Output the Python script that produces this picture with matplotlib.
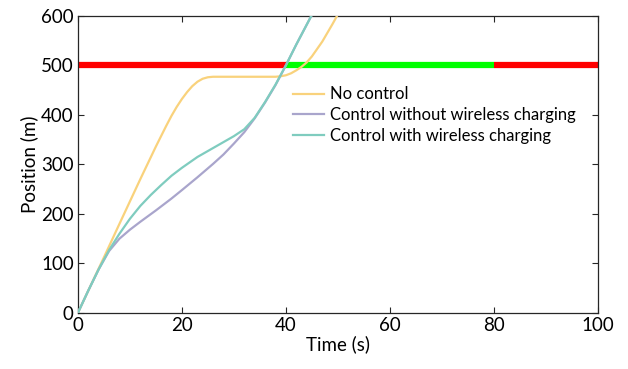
import matplotlib
matplotlib.use('Agg')
import matplotlib.pyplot as plt

# Position over time for the three strategies
t_none = [0, 2, 5, 8, 10, 12, 15, 17, 18, 19, 20, 21, 22, 23, 24, 25, 26, 30, 35, 38, 39, 40, 41, 42, 43, 44, 45, 46, 47, 48, 49, 50]
p_none = [0, 45, 112, 180, 225, 270, 336, 378, 398, 416, 432, 446, 458, 467, 473, 476, 477, 477, 477, 477, 478, 480, 484, 490, 497, 506, 518, 533, 548, 566, 584, 603]

t_nowc = [0, 2, 4, 6, 8, 10, 12, 15, 18, 20, 23, 26, 28, 30, 32, 34, 36, 38, 40, 42, 44, 45]
p_nowc = [0, 45, 88, 125, 150, 168, 184, 207, 231, 248, 274, 301, 320, 342, 365, 393, 425, 460, 500, 542, 582, 602]

t_wc = [0, 2, 4, 6, 8, 10, 12, 14, 16, 18, 20, 23, 26, 28, 30, 32, 34, 36, 38, 40, 42, 44, 45]
p_wc = [0, 45, 88, 127, 160, 190, 216, 238, 258, 277, 293, 315, 333, 345, 357, 371, 394, 426, 461, 500, 542, 582, 602]

# Target line status at 500 m
seg_start = [0, 40, 80]
seg_end = [40, 80, 100]
seg_color = ['#FF0000', '#00FF00', '#FF0000']
target = 500

plt.rcParams['font.family'] = ['Lato', 'DejaVu Sans']

fig = plt.figure(figsize=(6.28, 3.69), dpi=100)
ax = fig.add_axes([0.124, 0.152, 0.828, 0.805])

for a, b, c in zip(seg_start, seg_end, seg_color):
    ax.plot([a, b], [target, target], color=c, linewidth=4.5, solid_capstyle='butt', zorder=2)

ax.plot(t_none, p_none, color='#F9D27C', linewidth=1.6, label='No control', zorder=3)
ax.plot(t_nowc, p_nowc, color='#A9A5CC', linewidth=1.6, label='Control without wireless charging', zorder=3)
ax.plot(t_wc, p_wc, color='#7FCCBF', linewidth=1.6, label='Control with wireless charging', zorder=4)

ax.set_xlim(0, 100)
ax.set_ylim(0, 600)
ax.set_xticks([0, 20, 40, 60, 80, 100])
ax.set_yticks([0, 100, 200, 300, 400, 500, 600])
ax.set_xlabel('Time (s)', fontsize=13.5, labelpad=1)
ax.set_ylabel('Position (m)', fontsize=13.5, labelpad=2)

ax.tick_params(direction='in', top=True, right=True, labelsize=13.5, length=4, color='#262626', pad=3)
for s in ax.spines.values():
    s.set_color('#262626')
    s.set_linewidth(0.9)

ax.legend(loc='upper left', bbox_to_anchor=(0.4, 0.785), frameon=False, fontsize=12,
          handlelength=1.9, handletextpad=0.35, labelspacing=0.28, borderaxespad=0)

plt.savefig('out.png', dpi=100)
